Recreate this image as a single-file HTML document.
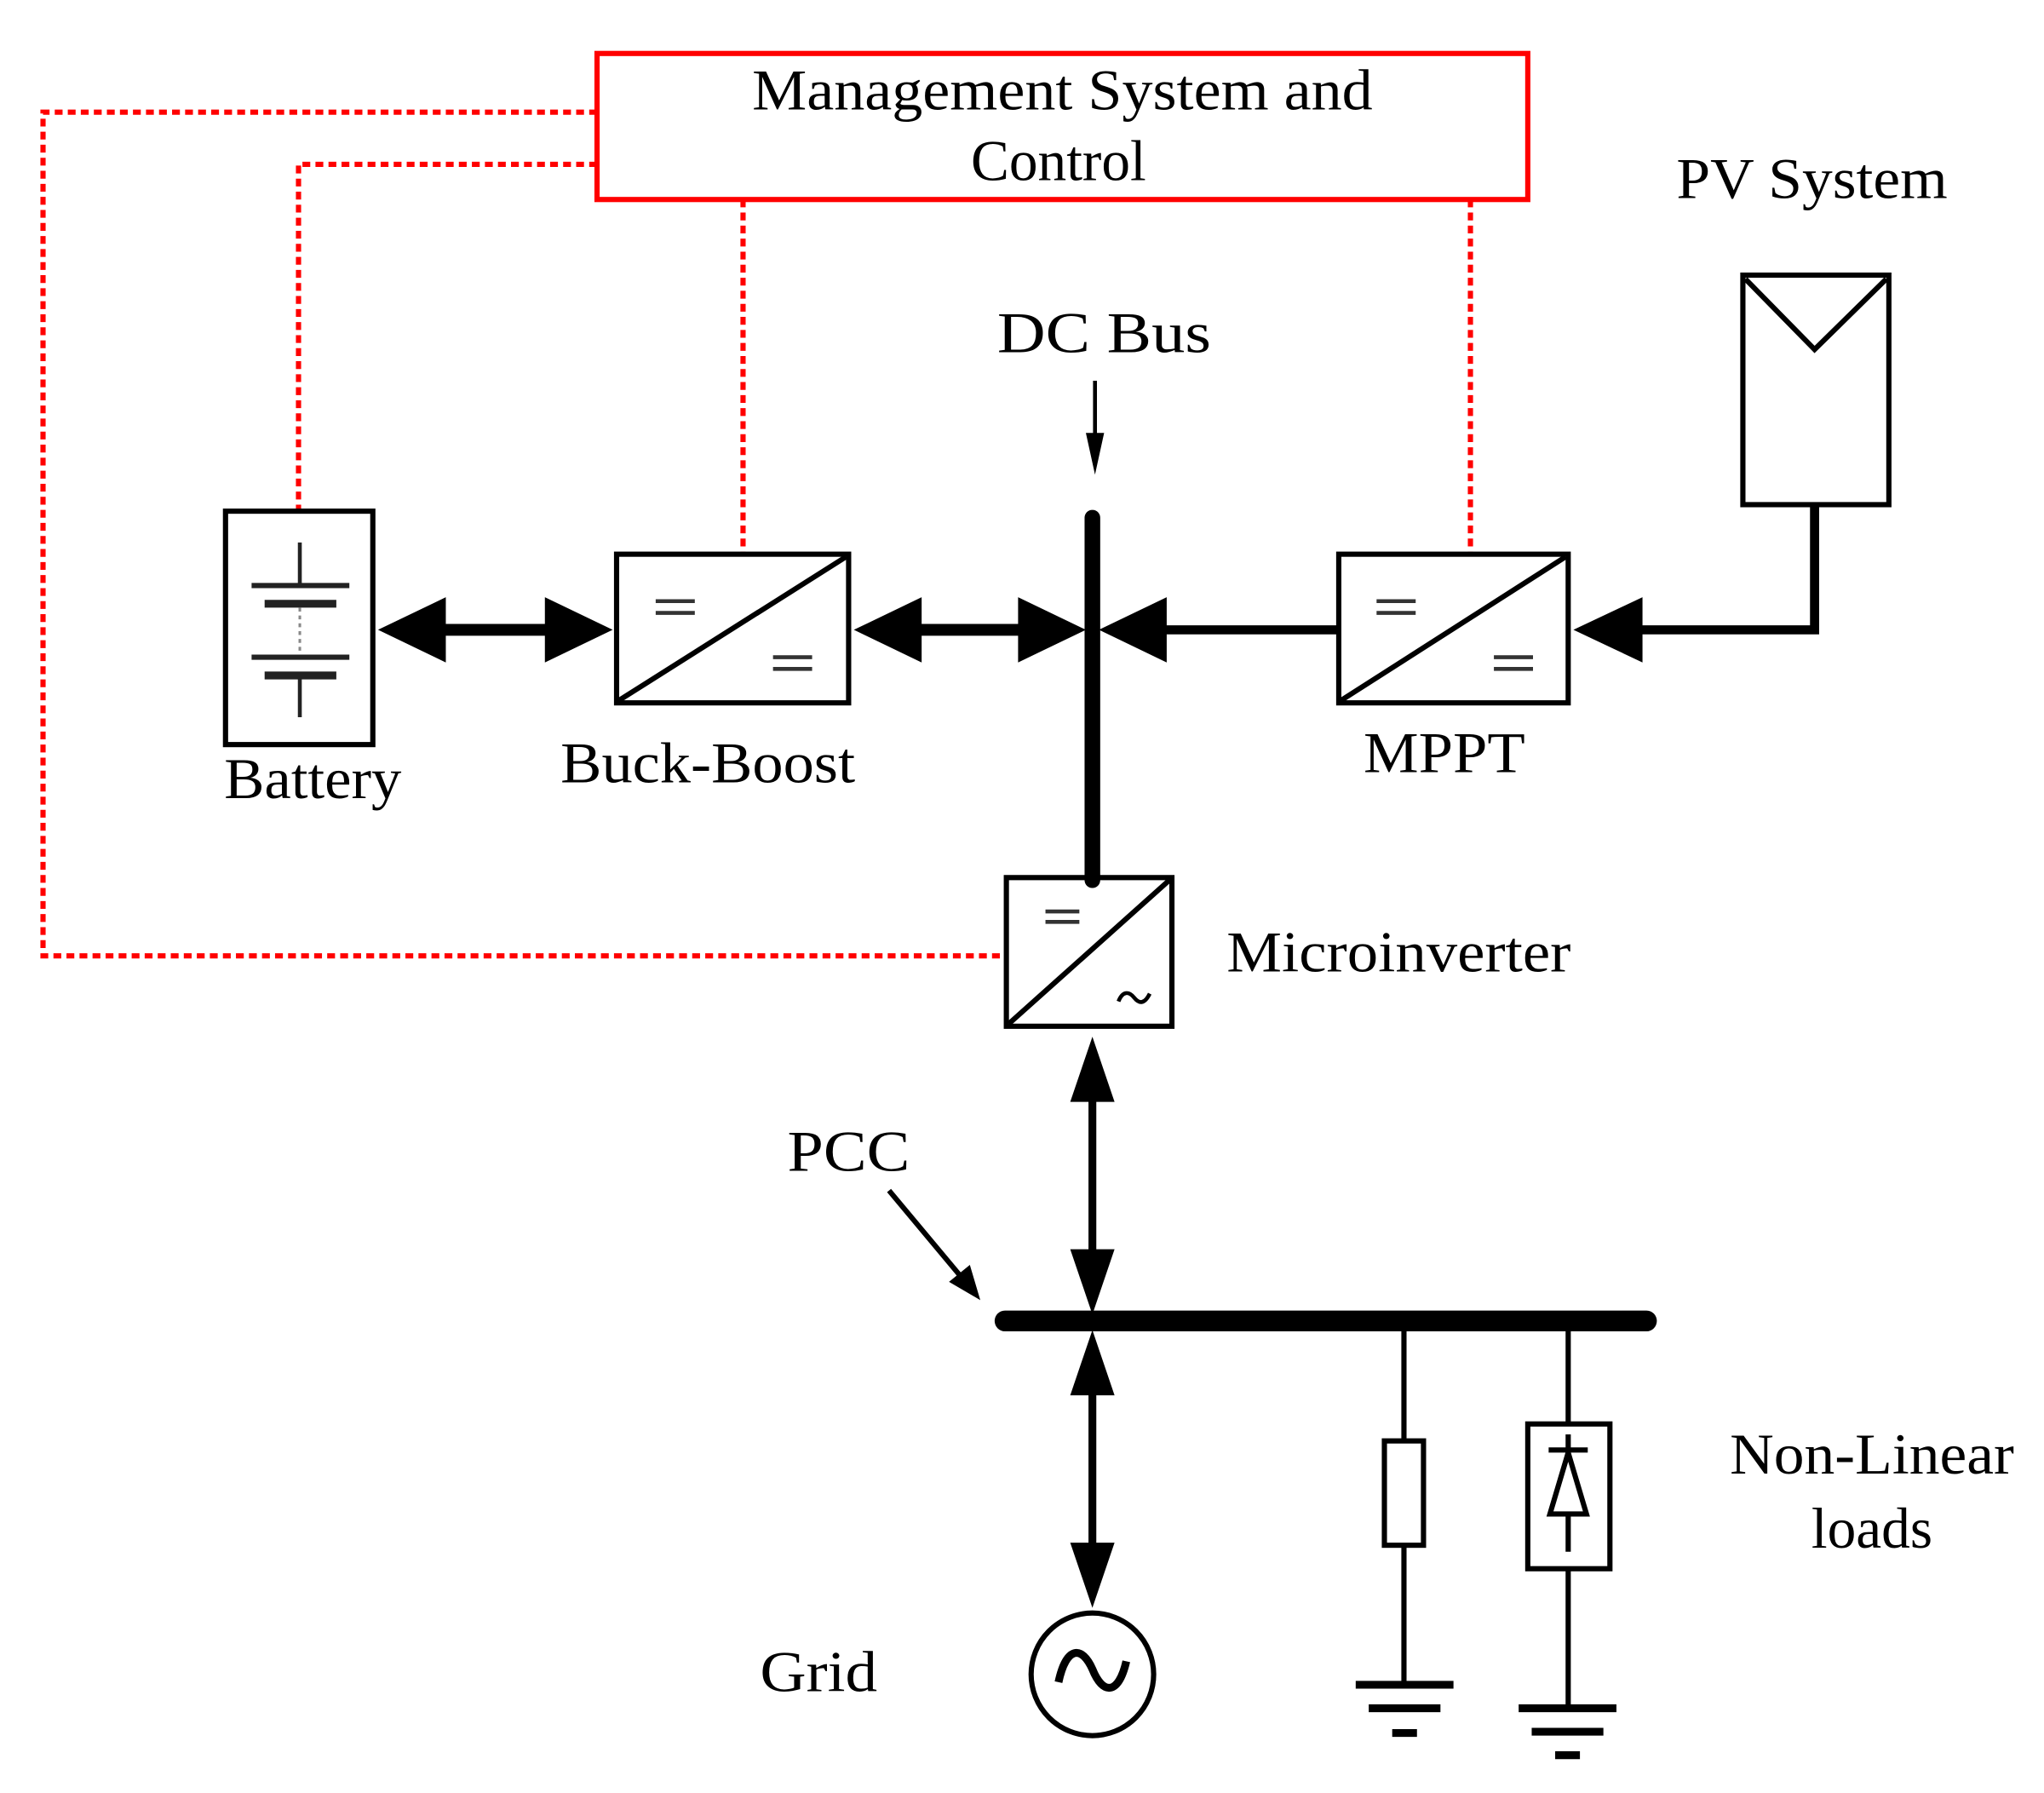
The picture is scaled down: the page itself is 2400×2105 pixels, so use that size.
<!DOCTYPE html>
<html><head><meta charset="utf-8"><style>html,body{margin:0;padding:0;background:#fff}svg{display:block}</style></head>
<body>
<svg width="2400" height="2105" viewBox="0 0 1568 1375" preserveAspectRatio="none" xmlns="http://www.w3.org/2000/svg" font-family="'Liberation Serif', serif" font-size="44">
<rect width="1568" height="1375" fill="#fff"/>
<!-- red control lines -->
<g stroke="#f00" stroke-width="4" fill="none" stroke-dasharray="6 4">
<path d="M458,86 H33 V733 H772"/>
<path d="M458,126 H229 V392"/>
<path d="M570,153 V425"/>
<path d="M1128,153 V425"/>
</g>
<rect x="458" y="41" width="714" height="112" fill="none" stroke="#f00" stroke-width="4"/>
<text x="815" y="84" text-anchor="middle" textLength="476" lengthAdjust="spacingAndGlyphs">Management System and</text>
<text x="812" y="138" text-anchor="middle">Control</text>
<!-- PV -->
<text x="1390" y="152" text-anchor="middle" textLength="208" lengthAdjust="spacingAndGlyphs">PV System</text>
<rect x="1337" y="211" width="112" height="176" fill="none" stroke="#000" stroke-width="4"/>
<path d="M1339,214 L1392,268 L1447,214" fill="none" stroke="#000" stroke-width="4"/>
<path d="M1392,387 V483 H1258" fill="none" stroke="#000" stroke-width="7"/>
<path d="M1207,483 L1260,458 L1260,508 z"/>
<!-- DC bus -->
<text x="847" y="270" text-anchor="middle" textLength="164" lengthAdjust="spacingAndGlyphs">DC Bus</text>
<line x1="840" y1="292" x2="840" y2="335" stroke="#000" stroke-width="3"/>
<path d="M833,332 L847,332 L840,364 z"/>
<line x1="838" y1="397" x2="838" y2="675" stroke="#000" stroke-width="12" stroke-linecap="round"/>
<!-- battery -->
<rect x="173" y="392" width="113" height="179" fill="none" stroke="#000" stroke-width="4"/>
<g stroke="#222">
<line x1="230" y1="416" x2="230" y2="449" stroke-width="3"/>
<line x1="193" y1="449" x2="268" y2="449" stroke-width="4"/>
<line x1="203" y1="463" x2="258" y2="463" stroke-width="6"/>
<line x1="230" y1="466" x2="230" y2="501" stroke-width="2" stroke-dasharray="3 3" stroke="#888"/>
<line x1="193" y1="504" x2="268" y2="504" stroke-width="4"/>
<line x1="203" y1="518" x2="258" y2="518" stroke-width="6"/>
<line x1="230" y1="518" x2="230" y2="550" stroke-width="3"/>
</g>
<text x="240" y="612" text-anchor="middle" textLength="136" lengthAdjust="spacingAndGlyphs">Battery</text>
<!-- battery <-> buck-boost -->
<line x1="330" y1="483" x2="430" y2="483" stroke="#000" stroke-width="9"/>
<path d="M290,483 L342,458 L342,508 z"/><path d="M470,483 L418,458 L418,508 z"/>
<!-- buck-boost -->
<rect x="473" y="425" width="178" height="114" fill="none" stroke="#000" stroke-width="4"/>
<line x1="475" y1="537" x2="649" y2="427" stroke="#000" stroke-width="4"/>
<g stroke="#333" stroke-width="3"><line x1="503" y1="461" x2="533" y2="461"/><line x1="503" y1="470" x2="533" y2="470"/><line x1="593" y1="504" x2="623" y2="504"/><line x1="593" y1="513" x2="623" y2="513"/></g>
<text x="543" y="600" text-anchor="middle" textLength="226" lengthAdjust="spacingAndGlyphs">Buck-Boost</text>
<!-- bb <-> bus -->
<line x1="695" y1="483" x2="795" y2="483" stroke="#000" stroke-width="9"/>
<path d="M655,483 L707,458 L707,508 z"/><path d="M833,483 L781,458 L781,508 z"/>
<!-- MPPT -> bus -->
<line x1="885" y1="483" x2="1027" y2="483" stroke="#000" stroke-width="7"/>
<path d="M843,483 L895,458 L895,508 z"/>
<rect x="1027" y="425" width="176" height="114" fill="none" stroke="#000" stroke-width="4"/>
<line x1="1029" y1="537" x2="1201" y2="427" stroke="#000" stroke-width="4"/>
<g stroke="#333" stroke-width="3"><line x1="1056" y1="461" x2="1086" y2="461"/><line x1="1056" y1="470" x2="1086" y2="470"/><line x1="1146" y1="504" x2="1176" y2="504"/><line x1="1146" y1="513" x2="1176" y2="513"/></g>
<text x="1108" y="592" text-anchor="middle" textLength="124" lengthAdjust="spacingAndGlyphs">MPPT</text>
<!-- microinverter -->
<rect x="772" y="673" width="127" height="114" fill="none" stroke="#000" stroke-width="4"/>
<line x1="774" y1="785" x2="897" y2="675" stroke="#000" stroke-width="4"/>
<g stroke="#333" stroke-width="3"><line x1="802" y1="699" x2="828" y2="699"/><line x1="802" y1="707" x2="828" y2="707"/></g>
<path d="M858,768 C861,760 866,760 870,765 C874,770 878,770 882,762" fill="none" stroke="#000" stroke-width="3"/>
<text x="1073" y="745" text-anchor="middle" textLength="264" lengthAdjust="spacingAndGlyphs">Microinverter</text>
<!-- vertical double arrow -->
<line x1="838" y1="830" x2="838" y2="975" stroke="#000" stroke-width="6"/>
<path d="M838,795 L821,845 L855,845 z"/><path d="M838,1008 L821,958 L855,958 z"/>
<!-- PCC -->
<text x="651" y="898" text-anchor="middle" textLength="94" lengthAdjust="spacingAndGlyphs">PCC</text>
<line x1="682" y1="913" x2="738" y2="980" stroke="#000" stroke-width="4"/>
<path d="M752,997 L728,983 L744,970 z"/>
<!-- AC bus -->
<line x1="771" y1="1013" x2="1263" y2="1013" stroke="#000" stroke-width="16" stroke-linecap="round"/>
<!-- grid arrow -->
<line x1="838" y1="1055" x2="838" y2="1200" stroke="#000" stroke-width="6"/>
<path d="M838,1020 L821,1070 L855,1070 z"/><path d="M838,1233 L821,1183 L855,1183 z"/>
<circle cx="838" cy="1284" r="47" fill="none" stroke="#000" stroke-width="4"/>
<path d="M812,1290 C818,1262 830,1262 838,1280 C846,1300 858,1300 864,1274" fill="none" stroke="#000" stroke-width="6"/>
<text x="628" y="1297" text-anchor="middle" textLength="90" lengthAdjust="spacingAndGlyphs">Grid</text>
<!-- resistor load -->
<line x1="1077" y1="1013" x2="1077" y2="1290" stroke="#000" stroke-width="4"/>
<rect x="1062" y="1105" width="30" height="80" fill="#fff" stroke="#000" stroke-width="4"/>
<g stroke="#000"><line x1="1040" y1="1292" x2="1115" y2="1292" stroke-width="6"/><line x1="1050" y1="1310" x2="1105" y2="1310" stroke-width="6"/><line x1="1068" y1="1329" x2="1087" y2="1329" stroke-width="6"/></g>
<!-- diode load -->
<line x1="1203" y1="1013" x2="1203" y2="1308" stroke="#000" stroke-width="4"/>
<rect x="1172" y="1092" width="63" height="111" fill="#fff" stroke="#000" stroke-width="4"/>
<line x1="1203" y1="1100" x2="1203" y2="1190" stroke="#000" stroke-width="4"/>
<line x1="1188" y1="1112" x2="1218" y2="1112" stroke="#000" stroke-width="4"/>
<path d="M1203,1114 L1189,1161 L1217,1161 z" fill="#fff" stroke="#000" stroke-width="4"/>
<g stroke="#000"><line x1="1165" y1="1310" x2="1240" y2="1310" stroke-width="6"/><line x1="1175" y1="1328" x2="1230" y2="1328" stroke-width="6"/><line x1="1193" y1="1346" x2="1212" y2="1346" stroke-width="6"/></g>
<text x="1436" y="1130" text-anchor="middle" textLength="218" lengthAdjust="spacingAndGlyphs">Non-Linear</text>
<text x="1436" y="1187" text-anchor="middle">loads</text>
</svg>
</body></html>
